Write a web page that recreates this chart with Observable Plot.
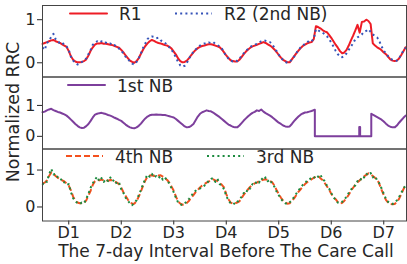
<!DOCTYPE html>
<html><head><meta charset="utf-8">
<script src="https://cdn.jsdelivr.net/npm/d3@7"></script>
<script src="https://cdn.jsdelivr.net/npm/@observablehq/plot@0.6"></script>
<style>
body{margin:0;background:#fff;}
#chart{position:relative;width:407px;height:264px;font-family:"DejaVu Sans",sans-serif;}
#chart svg{position:absolute;left:0;overflow:visible;}
</style></head><body><div id="chart"></div>
<script>
// ---- data (hours since start of the 7-day window) ----
const hours = d3.range(0, 167);
const dayTicks = [12, 36, 60, 84, 108, 132, 156];
const dayLabels = ["D1", "D2", "D3", "D4", "D5", "D6", "D7"];
const yTicks = [0, 1];
const yTickLabels = ["0", "1"];

const r1 = [0.44,0.46,0.48,0.50,0.52,0.53,0.50,0.48,0.46,0.43,
 0.40,0.37,0.27,0.15,0.07,0.03,0.01,0.01,0.02,0.04,
 0.08,0.17,0.28,0.36,0.42,0.45,0.45,0.46,0.44,0.44,
 0.43,0.42,0.41,0.39,0.37,0.35,0.30,0.24,0.17,0.11,
 0.05,0.02,0.00,0.04,0.11,0.21,0.31,0.39,0.45,0.50,
 0.53,0.51,0.48,0.46,0.45,0.43,0.41,0.40,0.37,0.33,
 0.26,0.19,0.10,0.04,0.01,0.02,0.05,0.11,0.18,0.24,
 0.30,0.34,0.37,0.39,0.40,0.42,0.43,0.43,0.42,0.40,
 0.38,0.36,0.31,0.24,0.17,0.11,0.06,0.04,0.03,0.03,
 0.07,0.13,0.20,0.26,0.31,0.35,0.38,0.40,0.42,0.44,
 0.46,0.48,0.46,0.43,0.40,0.36,0.31,0.25,0.18,0.12,
 0.07,0.04,0.01,0.01,0.08,0.15,0.22,0.28,0.34,0.39,
 0.42,0.45,0.47,0.48,0.55,0.85,0.83,0.80,0.76,0.73,
 0.71,0.65,0.58,0.50,0.42,0.35,0.27,0.22,0.24,0.30,
 0.40,0.52,0.63,0.75,0.88,0.70,0.95,0.96,1.00,0.97,
 0.90,0.45,0.40,0.36,0.33,0.29,0.24,0.20,0.14,0.08,
 0.05,0.04,0.05,0.10,0.18,0.27,0.36];

const r2 = [0.36,0.30,0.45,0.52,0.60,0.67,0.55,0.50,0.45,0.47,
 0.41,0.38,0.30,0.14,0.05,0.00,-0.04,-0.02,0.02,0.06,
 0.10,0.20,0.30,0.42,0.46,0.50,0.47,0.50,0.46,0.47,
 0.44,0.45,0.40,0.41,0.36,0.33,0.28,0.22,0.14,0.09,
 0.03,-0.02,-0.04,0.02,0.10,0.22,0.35,0.45,0.55,0.60,
 0.61,0.60,0.57,0.58,0.52,0.50,0.46,0.42,0.36,0.30,
 0.22,0.12,0.02,-0.06,-0.09,-0.07,0.00,0.10,0.18,0.26,
 0.31,0.35,0.40,0.43,0.45,0.44,0.47,0.46,0.48,0.44,
 0.41,0.38,0.33,0.24,0.16,0.10,0.05,0.03,0.05,0.04,
 0.09,0.16,0.22,0.28,0.32,0.37,0.40,0.42,0.44,0.47,
 0.50,0.52,0.51,0.49,0.48,0.43,0.35,0.27,0.19,0.12,
 0.06,0.02,0.00,0.03,0.07,0.14,0.22,0.30,0.36,0.40,
 0.44,0.47,0.52,0.50,0.56,0.78,0.76,0.72,0.70,0.66,
 0.62,0.55,0.47,0.38,0.28,0.20,0.14,0.13,0.16,0.22,
 0.30,0.38,0.45,0.55,0.59,0.62,0.66,0.72,0.74,0.78,
 0.72,0.66,0.62,0.59,0.50,0.38,0.28,0.22,0.15,0.10,
 0.07,0.05,0.05,0.10,0.20,0.28,0.35];

const nb1Hours = [...d3.range(0, 125), 124.5, 124.5, 144.8, 144.8, 145.2, 145.2, 150.3, 150.3, ...d3.range(151, 167)];
const nb1 = [0.78,0.80,0.84,0.87,0.89,0.85,0.82,0.79,0.77,0.74,
 0.71,0.67,0.61,0.54,0.47,0.40,0.34,0.29,0.27,0.28,
 0.33,0.40,0.50,0.61,0.70,0.73,0.75,0.76,0.74,0.72,
 0.69,0.67,0.64,0.60,0.57,0.53,0.50,0.44,0.38,0.33,
 0.29,0.27,0.26,0.29,0.34,0.41,0.50,0.58,0.64,0.68,
 0.70,0.70,0.71,0.70,0.70,0.69,0.69,0.67,0.65,0.63,
 0.61,0.56,0.50,0.44,0.38,0.32,0.29,0.30,0.34,0.40,
 0.52,0.64,0.73,0.78,0.81,0.84,0.82,0.81,0.77,0.72,
 0.67,0.62,0.56,0.50,0.44,0.38,0.35,0.31,0.29,0.29,
 0.35,0.43,0.51,0.58,0.65,0.71,0.76,0.79,0.84,0.82,
 0.87,0.80,0.75,0.71,0.67,0.62,0.56,0.50,0.44,0.40,
 0.35,0.32,0.31,0.32,0.40,0.49,0.57,0.64,0.70,0.74,
 0.77,0.78,0.80,0.82,0.85,
 0.86,0.00,0.00,0.30,0.30,0.00,0.00,0.73,
 0.70,0.66,0.62,0.58,0.54,0.48,0.41,0.35,0.31,0.29,0.29,0.35,0.44,0.52,0.60,0.67];

const nb4 = [0.64,0.66,0.72,0.84,0.93,0.90,0.84,0.79,0.75,0.72,
 0.69,0.64,0.58,0.45,0.28,0.17,0.12,0.10,0.10,0.11,
 0.18,0.31,0.44,0.60,0.70,0.73,0.72,0.74,0.72,0.73,
 0.71,0.73,0.72,0.69,0.66,0.62,0.52,0.40,0.30,0.20,
 0.13,0.09,0.09,0.16,0.28,0.42,0.58,0.72,0.82,0.85,
 0.86,0.84,0.87,0.85,0.86,0.82,0.78,0.73,0.66,0.55,
 0.44,0.28,0.15,0.09,0.06,0.07,0.11,0.17,0.25,0.32,
 0.40,0.46,0.53,0.58,0.62,0.66,0.69,0.73,0.75,0.72,
 0.70,0.65,0.60,0.53,0.35,0.21,0.12,0.09,0.10,0.12,
 0.15,0.24,0.33,0.41,0.48,0.55,0.60,0.64,0.66,0.70,
 0.72,0.74,0.75,0.73,0.70,0.67,0.58,0.46,0.35,0.25,
 0.17,0.12,0.09,0.10,0.16,0.23,0.32,0.41,0.48,0.55,
 0.62,0.67,0.70,0.75,0.79,0.82,0.84,0.78,0.73,0.65,
 0.56,0.47,0.36,0.27,0.21,0.13,0.09,0.11,0.17,0.24,
 0.33,0.44,0.52,0.60,0.67,0.72,0.78,0.83,0.87,0.91,
 0.88,0.84,0.79,0.75,0.62,0.46,0.32,0.19,0.12,0.08,
 0.07,0.08,0.14,0.22,0.35,0.48,0.62];

const nb3 = [0.60,0.70,0.68,0.88,1.03,0.88,0.90,0.80,0.73,0.76,
 0.66,0.60,0.62,0.40,0.24,0.15,0.11,0.08,0.12,0.10,
 0.22,0.36,0.52,0.64,0.74,0.82,0.70,0.78,0.68,0.76,
 0.70,0.80,0.70,0.74,0.62,0.66,0.48,0.38,0.25,0.17,
 0.10,0.05,0.12,0.18,0.32,0.46,0.62,0.76,0.88,0.82,
 0.90,0.80,0.84,0.78,0.84,0.74,0.80,0.70,0.64,0.50,
 0.40,0.25,0.12,0.07,0.05,0.09,0.16,0.22,0.30,0.38,
 0.44,0.48,0.50,0.54,0.58,0.62,0.72,0.76,0.78,0.68,
 0.76,0.62,0.58,0.48,0.30,0.18,0.10,0.12,0.07,0.14,
 0.18,0.28,0.38,0.36,0.52,0.50,0.62,0.60,0.70,0.66,
 0.78,0.72,0.80,0.70,0.74,0.62,0.55,0.42,0.32,0.22,
 0.15,0.10,0.08,0.13,0.18,0.27,0.36,0.45,0.52,0.60,
 0.64,0.72,0.74,0.80,0.78,0.86,0.82,0.88,0.76,0.70,
 0.58,0.50,0.38,0.26,0.20,0.12,0.10,0.14,0.20,0.28,
 0.38,0.46,0.56,0.58,0.70,0.68,0.82,0.80,0.90,0.86,
 0.92,0.80,0.84,0.72,0.64,0.50,0.36,0.22,0.14,0.10,
 0.08,0.11,0.18,0.27,0.38,0.50,0.58];

// ---- styling / layout ----
const W = 407;
const chart = document.getElementById("chart");
const textColor = "#262626";
const solid = {width: 2, dash: null};
const dotted = {width: 2, dash: "2,3.2"};
const dashed = {width: 2, dash: "6,3"};

const panels = [
  {top: 0, height: 78, mt: 5, mb: 1.5, domain: [-0.33, 1.33], xAxis: false,
   series: [
     {name: "R1", x: hours, y: r1, color: "#ee1c25", ...solid, lx: 70, ty: 20},
     {name: "R2 (2nd NB)", x: hours, y: r2, color: "#3553b8", ...dotted, lx: 175, ty: 20}
   ]},
  {top: 75, height: 75, mt: 1.5, mb: 1.5, domain: [-0.41, 1.92], xAxis: false,
   series: [
     {name: "1st NB", x: nb1Hours, y: nb1, color: "#7d3f9c", ...solid, lx: 68, ty: 91.5}
   ]},
  {top: 147, height: 117, mt: 1.5, mb: 43.5, domain: [-0.38, 1.57], xAxis: true,
   series: [
     {name: "4th NB", x: hours, y: nb4, color: "#f4511e", ...dashed, lx: 66, ty: 162.5},
     {name: "3rd NB", x: hours, y: nb3, color: "#1b8a3e", ...dotted, lx: 207, ty: 162.5}
   ]}
];

for (const p of panels) {
  const svg = Plot.plot({
    width: W, height: p.height,
    marginLeft: 42, marginRight: 1, marginTop: p.mt, marginBottom: p.mb,
    style: {background: "transparent", fontFamily: "DejaVu Sans, sans-serif", fontSize: "16px", color: textColor, overflow: "visible"},
    x: {domain: [0, 166.4], ticks: dayTicks, tickFormat: d => dayLabels[dayTicks.indexOf(d)],
        tickSize: 4, tickPadding: 2, label: null, axis: p.xAxis ? "bottom" : null},
    y: {domain: p.domain, ticks: yTicks, tickFormat: d => yTickLabels[yTicks.indexOf(d)],
        tickSize: 5, tickPadding: 2, label: null},
    marks: [
      ...p.series.map(s => Plot.line(s.x.map((x, i) => ({x, y: s.y[i]})), {
        x: "x", y: "y", stroke: s.color, strokeWidth: s.width,
        strokeDasharray: s.dash, strokeLinecap: s.dash ? "butt" : "round"
      })),
      Plot.frame({stroke: "#444"})
    ]
  });
  svg.style.position = "absolute";
  svg.style.top = p.top + "px";
  svg.style.left = "0px";
  chart.appendChild(svg);
}

// ---- legends and axis titles ----
const ov = d3.create("svg").attr("width", W).attr("height", 264)
  .style("position", "absolute").style("top", "0px").style("left", "0px")
  .style("font-family", "DejaVu Sans, sans-serif").style("pointer-events", "none");
for (const p of panels) {
  for (const s of p.series) {
    const ly = s.ty - 6.5;
    ov.append("line").attr("x1", s.lx).attr("x2", s.lx + 37).attr("y1", ly).attr("y2", ly)
      .attr("stroke", s.color).attr("stroke-width", s.width)
      .attr("stroke-dasharray", s.dash).attr("stroke-linecap", s.dash ? "butt" : "round");
    ov.append("text").attr("x", s.lx + 49).attr("y", s.ty).attr("fill", textColor)
      .attr("font-size", 17).text(s.name);
  }
}
ov.append("text").attr("transform", "translate(19,112) rotate(-90)").attr("text-anchor", "middle")
  .attr("font-size", 17.5).attr("fill", textColor).text("Normalized RRC");
ov.append("text").attr("x", 226).attr("y", 257).attr("text-anchor", "middle")
  .attr("font-size", 17).attr("fill", textColor).text("The 7-day Interval Before The Care Call");
chart.appendChild(ov.node());
</script></body></html>
